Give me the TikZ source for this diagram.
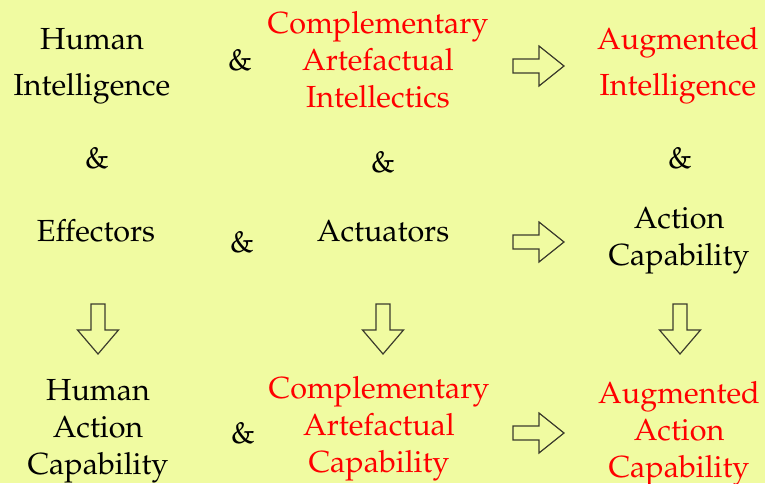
\documentclass[tikz,border=0pt]{standalone}
\usepackage[T1]{fontenc}
\usepackage{mathpazo}
\usepackage{tikz}
\definecolor{bgyellow}{RGB}{240,251,161}
\definecolor{arrowgrey}{RGB}{60,60,45}
\tikzset{
  txt/.style={align=center,inner sep=0pt,font=\fontsize{30.5}{36.8}\selectfont},
  red txt/.style={txt,text=red},
  arrowline/.style={draw=arrowgrey,line width=1.2pt,line join=miter},
  rarrow/.pic={\draw[arrowline] (0,-7) -- (26,-7) -- (26,-20) -- (51,0) -- (26,20) -- (26,7) -- (0,7) -- cycle;},
  darrow/.pic={\draw[arrowline] (-7,0) -- (-7,26) -- (-20.5,26) -- (0,50) -- (20.5,26) -- (7,26) -- (7,0) -- cycle;}
}

\begin{document}
\begin{tikzpicture}[x=1pt,y=-1pt]
% background
\fill[bgyellow] (0,0) rectangle (765,483);
\useasboundingbox (0,0) rectangle (765,483);
% top row
\node[txt] (hi) at (92,66) {Human\\[9pt]Intelligence};
\node[txt] (amp1) at (240,60) {\&};
\node[red txt] (cai) at (378,60) {Complementary\\Artefactual\\Intellectics};
\pic at (513,66) {rarrow};
\node[red txt] (ai) at (678,66) {Augmented\\[9pt]Intelligence};
% ampersands between rows
\node[txt] (ampa) at (97,158) {\&};
\node[txt] (ampb) at (383,162) {\&};
\node[txt] (ampc) at (680,158) {\&};
% middle row
\node[txt] (eff) at (96,231) {Effectors};
\node[txt] (amp2) at (242,242) {\&};
\node[txt] (act) at (383,231) {Actuators};
\pic at (513,242) {rarrow};
\node[txt] (ac) at (679,240.5) {Action\\Capability};
% down arrows
\pic at (98,304) {darrow};
\pic at (383,304) {darrow};
\pic at (680,304) {darrow};
% bottom row
\node[txt] (hac) at (98,431.5) {Human\\Action\\Capability};
\node[txt] (amp3) at (243,433) {\&};
\node[red txt] (cac) at (379,428.5) {Complementary\\Artefactual\\Capability};
\pic at (513,433) {rarrow};
\node[red txt] (aac) at (679,434) {Augmented\\Action\\Capability};
\end{tikzpicture}
\end{document}
